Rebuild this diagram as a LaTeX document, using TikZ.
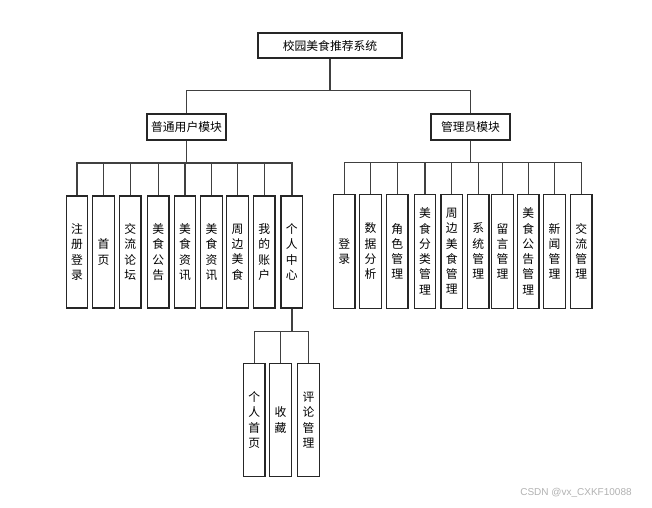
\documentclass[tikz,border=0pt]{standalone}
\usepackage{fontspec}
\setmainfont{Noto Sans CJK SC}
\newfontfamily\wmfont{Liberation Sans}
\begin{document}
\begin{tikzpicture}[x=1pt,y=-1pt,
  box/.style={draw=black!85,line width=1.2pt,fill=white,inner sep=0pt,align=center,
    font=\fontsize{11.8}{15.3}\selectfont},
  vbox/.style={box,minimum width=21.5pt,text width=14pt},
  conn/.style={draw=black!75,line width=1.4pt}]
\useasboundingbox[fill=white] (0,0) rectangle (652,507);
% root
\node[box,minimum width=144pt,minimum height=25pt] (root) at (330,45.5) {校园美食推荐系统};
\node[box,minimum width=79pt,minimum height=26pt] (um) at (186.5,127) {普通用户模块};
\node[box,minimum width=79pt,minimum height=26pt] (am) at (470.5,127) {管理员模块};
% user children
\foreach \n/\x/\t in {u1/77/{注\\册\\登\\录},u2/103.6/{首\\页},u3/130.2/{交\\流\\论\\坛},
  u4/158.3/{美\\食\\公\\告},u5/185/{美\\食\\资\\讯},u6/211.5/{美\\食\\资\\讯},
  u7/237.5/{周\\边\\美\\食},u8/264.2/{我\\的\\账\\户},u9/291.8/{个\\人\\中\\心}}
  \node[vbox,minimum height=112pt] (\n) at (\x,252) {\t};
% admin children
\foreach \n/\x/\t in {a1/344.2/{登\\录},a2/370.5/{数\\据\\分\\析},a3/397.2/{角\\色\\管\\理},
  a4/425/{美\\食\\分\\类\\管\\理},a5/451.7/{周\\边\\美\\食\\管\\理},a6/478.2/{系\\统\\管\\理},
  a7/502.5/{留\\言\\管\\理},a8/528.2/{美\\食\\公\\告\\管\\理},a9/554.5/{新\\闻\\管\\理},
  a10/581.2/{交\\流\\管\\理}}
  \node[vbox,minimum height=114pt] (\n) at (\x,251.3) {\t};
% personal center children
\foreach \n/\x/\t in {p1/254.2/{个\\人\\首\\页},p2/280.5/{收\\藏},p3/308.5/{评\\论\\管\\理}}
  \node[vbox,minimum height=113.4pt] (\n) at (\x,420) {\t};
% connectors
\draw[conn] (root.south) -- ++(0,32) coordinate (rb);
\draw[conn] (rb) -| (um.north);
\draw[conn] (rb) -| (am.north);
\draw[conn] (um.south) -- ++(0,22.5) coordinate (ub);
\foreach \n in {u1,u2,u3,u4,u5,u6,u7,u8,u9} \draw[conn] (ub) -| (\n.north);
\draw[conn] (am.south) -- ++(0,21.7) coordinate (ab);
\foreach \n in {a1,a2,a3,a4,a5,a6,a7,a8,a9,a10} \draw[conn] (ab) -| (\n.north);
\draw[conn] (u9.south) -- ++(0,23) coordinate (pb);
\foreach \n in {p1,p2,p3} \draw[conn] (pb) -| (\n.north);
% watermark
\node[text=black!30,font=\wmfont\fontsize{10}{12}\selectfont,inner sep=0pt] (wm) at (576,493) {CSDN @vx\_CXKF10088};
\end{tikzpicture}
\end{document}
